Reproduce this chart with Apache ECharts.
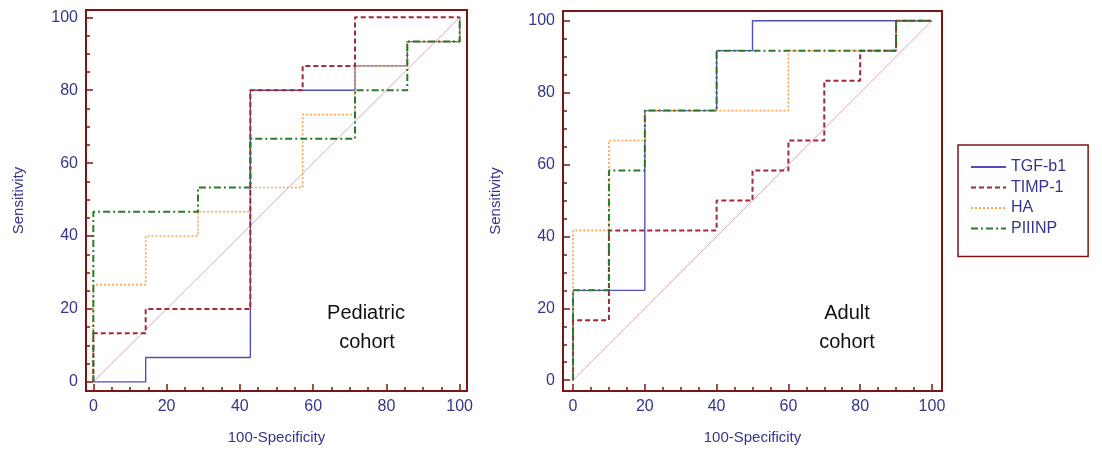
<!DOCTYPE html>
<html>
<head>
<meta charset="utf-8">
<title>ROC curves</title>
<script src="https://cdn.jsdelivr.net/npm/echarts@6/dist/echarts.min.js"></script>
<style>
  html, body { margin: 0; padding: 0; background: #fff; }
  #chart { width: 1102px; height: 450px; }
</style>
</head>
<body>
<div id="chart"></div>
<script>
// ROC operating points [100-specificity, sensitivity], drawn as steps
const names = ["TGF-b1", "TIMP-1", "HA", "PIIINP"];

const pedTgf = [[0, 0], [14.29, 6.67], [42.86, 80], [71.43, 86.67], [85.71, 93.33], [100, 100]];
const pedTimp = [[0, 0], [0, 13.33], [14.29, 20], [42.86, 80], [57.14, 86.67], [71.43, 100], [100, 100]];
const pedHa = [[0, 0], [0, 26.67], [14.29, 40], [28.57, 46.67], [42.86, 53.33], [57.14, 73.33], [71.43, 86.67], [85.71, 93.33], [100, 100]];
const pedPiiinp = [[0, 0], [0, 46.67], [28.57, 53.33], [42.86, 66.67], [71.43, 80], [85.71, 93.33], [100, 100]];

const adTgf = [[0, 0], [0, 25], [20, 75], [40, 91.67], [50, 100], [100, 100]];
const adTimp = [[0, 0], [0, 16.67], [10, 41.67], [40, 50], [50, 58.33], [60, 66.67], [70, 83.33], [80, 91.67], [90, 100], [100, 100]];
const adHa = [[0, 0], [0, 41.67], [10, 66.67], [20, 75], [60, 91.67], [90, 100], [100, 100]];
const adPiiinp = [[0, 0], [0, 25], [10, 58.33], [20, 75], [40, 91.67], [90, 100], [100, 100]];

const diagonal = [[0, 0], [100, 100]];

const labelTicks = [0, 20, 40, 60, 80, 100];
const minorTicks = [0, 5, 10, 15, 20, 25, 30, 35, 40, 45, 50, 55, 60, 65, 70, 75, 80, 85, 90, 95, 100];

const axisColor = "#7b1616";
const textColor = "#35358f";
const fontFam = "'Liberation Sans', Arial, sans-serif";

const styles = [
  { color: "#4f4fc4", width: 1.4, type: "solid" },
  { color: "#a02a35", width: 2, type: [5, 3] },
  { color: "#ffa24a", width: 1.6, type: [2, 2] },
  { color: "#2b7a2b", width: 2, type: [7, 3, 2, 3] }
];

let chart = echarts.init(document.getElementById("chart"));

function valueAxis(grid, dim, min, max, withLabel) {
  let ax = {
    type: "value",
    gridIndex: grid,
    position: dim === "x" ? "bottom" : "left",
    min: min,
    max: max,
    splitLine: { show: false },
    axisLine: { show: withLabel, onZero: false, lineStyle: { color: axisColor, width: 2 } },
    axisTick: {
      show: true,
      inside: true,
      length: withLabel ? 7 : 4,
      customValues: withLabel ? labelTicks : minorTicks,
      lineStyle: { color: axisColor, width: 1.5 }
    },
    axisLabel: {
      show: withLabel,
      customValues: labelTicks,
      color: textColor,
      fontSize: 16,
      fontFamily: fontFam,
      margin: 8
    }
  };
  if (withLabel) {
    ax.name = dim === "x" ? "100-Specificity" : "Sensitivity";
    ax.nameLocation = "middle";
    ax.nameTextStyle = { color: textColor, fontSize: 15, fontFamily: fontFam };
    ax.nameGap = dim === "x" ? 39 : 60;
  }
  return ax;
}

function stepSeries(grid, data, i) {
  return {
    name: names[i],
    type: "line",
    xAxisIndex: grid * 2,
    yAxisIndex: grid * 2,
    data: data,
    step: "end",
    symbol: "none",
    animation: false,
    lineStyle: styles[i],
    itemStyle: { color: styles[i].color }
  };
}

function diagSeries(grid) {
  return {
    type: "line",
    xAxisIndex: grid * 2,
    yAxisIndex: grid * 2,
    data: diagonal,
    symbol: "none",
    silent: true,
    animation: false,
    lineStyle: { color: "#d8a9c2", width: 1 }
  };
}

let series = [];
[[pedTgf, pedTimp, pedHa, pedPiiinp], [adTgf, adTimp, adHa, adPiiinp]].forEach((set, g) => {
  series.push(diagSeries(g));
  // drawing order: TGF, HA, TIMP, PIIINP on top
  [0, 2, 1, 3].forEach((i) => series.push(stepSeries(g, set[i], i)));
});

function cohortText(x, y, txt) {
  return { type: "text", x: x, y: y, style: { text: txt, fill: "#111", font: "20px " + fontFam, align: "center", verticalAlign: "middle" } };
}

chart.setOption({
  animation: false,
  grid: [
    { left: 86, top: 10, width: 381, height: 381, show: true, borderColor: axisColor, borderWidth: 2, backgroundColor: "#fff" },
    { left: 563, top: 11, width: 379, height: 380, show: true, borderColor: axisColor, borderWidth: 2, backgroundColor: "#fff" }
  ],
  xAxis: [
    valueAxis(0, "x", -2, 102, true),
    valueAxis(0, "x", -2, 102, false),
    valueAxis(1, "x", -2.8, 102.8, true),
    valueAxis(1, "x", -2.8, 102.8, false)
  ],
  yAxis: [
    valueAxis(0, "y", -2.5, 102, true),
    valueAxis(0, "y", -2.5, 102, false),
    valueAxis(1, "y", -3, 102.7, true),
    valueAxis(1, "y", -3, 102.7, false)
  ],
  legend: {
    data: names,
    orient: "vertical",
    left: 958,
    top: 145,
    padding: [14, 22, 20, 12],
    itemWidth: 35,
    itemHeight: 14,
    itemGap: 4.5,
    itemStyle: { opacity: 0 },
    borderColor: axisColor,
    borderWidth: 1.5,
    textStyle: { color: textColor, fontSize: 16, fontFamily: fontFam }
  },
  graphic: [
    cohortText(366, 313, "Pediatric"),
    cohortText(367, 342, "cohort"),
    cohortText(847, 313, "Adult"),
    cohortText(847, 342, "cohort")
  ],
  series: series
});
</script>
</body>
</html>
